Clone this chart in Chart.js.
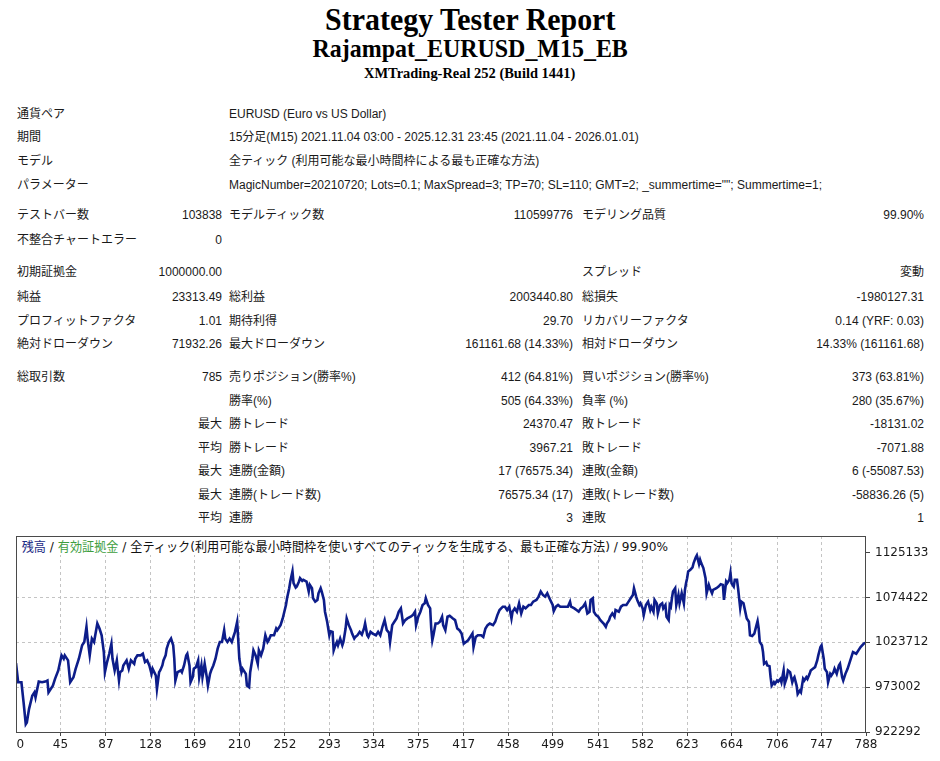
<!DOCTYPE html>
<html lang="ja">
<head>
<meta charset="utf-8">
<title>Strategy Tester Report</title>
<script src="https://cdn.jsdelivr.net/npm/chart.js@4.4.1/dist/chart.umd.min.js"></script>
<style>
  html, body { margin: 0; padding: 0; background: #fff; }
  body {
    width: 940px; height: 761px; position: relative; overflow: hidden;
    font-family: "Liberation Sans", Arial, "Noto Sans CJK JP", sans-serif;
    font-size: 12px; color: #1a1a1a;
  }
  .hd {
    position: absolute; left: 0; width: 940px; text-align: center;
    font-family: "Liberation Serif", "Times New Roman", serif;
    font-weight: bold; color: #000; white-space: nowrap; line-height: 1;
  }
  .hd span { display: inline-block; transform-origin: center; }
  .row { position: absolute; left: 0; width: 940px; height: 16px; line-height: 16px; }
  .row span { position: absolute; top: 0; white-space: nowrap; }
  .l1 { left: 17px; }
  .v1 { right: 718px; }
  .l2 { left: 229px; }
  .v2 { right: 367px; }
  .l3 { left: 582px; }
  .v3 { right: 16px; }
  #chartBox { position: absolute; left: 0; top: 530px; width: 940px; height: 231px; }
  #chartTitle {
    position: absolute; left: 18px; top: 537px; height: 18px; padding: 3px 4px 0 4px;
    box-sizing: border-box; line-height: 14px; background: #fff; white-space: nowrap;
    font-family: "DejaVu Sans", "Noto Sans CJK JP", sans-serif; font-size: 13px; color: #111;
    transform-origin: left center;
  }
  #chartTitle .bal { color: #1c2c86; }
  #chartTitle .eq { color: #3e9e3e; }
</style>
</head>
<body>

<div class="hd" style="top:3px;font-size:32px"><span data-w="290">Strategy Tester Report</span></div>
<div class="hd" style="top:36px;font-size:26px"><span data-w="315">Rajampat_EURUSD_M15_EB</span></div>
<div class="hd" style="top:66px;font-size:15px"><span data-w="211">XMTrading-Real 252 (Build 1441)</span></div>

<div class="row" style="top:106px"><span class="l1">通貨ペア</span><span class="l2">EURUSD (Euro vs US Dollar)</span></div>
<div class="row" style="top:129px"><span class="l1">期間</span><span class="l2">15分足(M15) 2021.11.04 03:00 - 2025.12.31 23:45 (2021.11.04 - 2026.01.01)</span></div>
<div class="row" style="top:153px"><span class="l1">モデル</span><span class="l2">全ティック (利用可能な最小時間枠による最も正確な方法)</span></div>
<div class="row" style="top:177px"><span class="l1">パラメーター</span><span class="l2">MagicNumber=20210720; Lots=0.1; MaxSpread=3; TP=70; SL=110; GMT=2; _summertime=""; Summertime=1;</span></div>
<div class="row" style="top:207px"><span class="l1">テストバー数</span><span class="v1">103838</span><span class="l2">モデルティック数</span><span class="v2">110599776</span><span class="l3">モデリング品質</span><span class="v3">99.90%</span></div>
<div class="row" style="top:232px"><span class="l1">不整合チャートエラー</span><span class="v1">0</span></div>
<div class="row" style="top:264px"><span class="l1">初期証拠金</span><span class="v1">1000000.00</span><span class="l3">スプレッド</span><span class="v3">変動</span></div>
<div class="row" style="top:289px"><span class="l1">純益</span><span class="v1">23313.49</span><span class="l2">総利益</span><span class="v2">2003440.80</span><span class="l3">総損失</span><span class="v3">-1980127.31</span></div>
<div class="row" style="top:313px"><span class="l1">プロフィットファクタ</span><span class="v1">1.01</span><span class="l2">期待利得</span><span class="v2">29.70</span><span class="l3">リカバリーファクタ</span><span class="v3">0.14 (YRF: 0.03)</span></div>
<div class="row" style="top:336px"><span class="l1">絶対ドローダウン</span><span class="v1">71932.26</span><span class="l2">最大ドローダウン</span><span class="v2">161161.68 (14.33%)</span><span class="l3">相対ドローダウン</span><span class="v3">14.33% (161161.68)</span></div>
<div class="row" style="top:369px"><span class="l1">総取引数</span><span class="v1">785</span><span class="l2">売りポジション(勝率%)</span><span class="v2">412 (64.81%)</span><span class="l3">買いポジション(勝率%)</span><span class="v3">373 (63.81%)</span></div>
<div class="row" style="top:393px"><span class="l2">勝率(%)</span><span class="v2">505 (64.33%)</span><span class="l3">負率 (%)</span><span class="v3">280 (35.67%)</span></div>
<div class="row" style="top:416px"><span class="v1">最大</span><span class="l2">勝トレード</span><span class="v2">24370.47</span><span class="l3">敗トレード</span><span class="v3">-18131.02</span></div>
<div class="row" style="top:440px"><span class="v1">平均</span><span class="l2">勝トレード</span><span class="v2">3967.21</span><span class="l3">敗トレード</span><span class="v3">-7071.88</span></div>
<div class="row" style="top:463px"><span class="v1">最大</span><span class="l2">連勝(金額)</span><span class="v2">17 (76575.34)</span><span class="l3">連敗(金額)</span><span class="v3">6 (-55087.53)</span></div>
<div class="row" style="top:487px"><span class="v1">最大</span><span class="l2">連勝(トレード数)</span><span class="v2">76575.34 (17)</span><span class="l3">連敗(トレード数)</span><span class="v3">-58836.26 (5)</span></div>
<div class="row" style="top:510px"><span class="v1">平均</span><span class="l2">連勝</span><span class="v2">3</span><span class="l3">連敗</span><span class="v3">1</span></div>

<div id="chartBox"><canvas id="balanceChart" width="940" height="231"></canvas></div>
<div id="chartTitle" data-w="654"><span class="bal">残高</span> / <span class="eq">有効証拠金</span> / 全ティック(利用可能な最小時間枠を使いすべてのティックを生成する、最も正確な方法) / 99.90%</div>

<script>
// Balance curve (trade number -> balance)
const tradeNo = [
  4, 6, 9, 11, 13, 14, 16, 19, 21, 22,
  25, 28, 31, 33, 34, 36, 38, 40, 43, 46,
  48, 49, 52, 54, 57, 59, 62, 65, 67, 69,
  70, 72, 74, 76, 79, 81, 83, 85, 86, 88,
  90, 92, 93, 95, 97, 99, 100, 102, 103, 106,
  108, 110, 113, 114, 116, 119, 121, 123, 125, 127,
  129, 130, 133, 134, 136, 137, 139, 140, 142, 143,
  145, 147, 149, 150, 151, 153, 156, 157, 159, 161,
  162, 164, 165, 167, 168, 170, 172, 173, 175, 176,
  178, 180, 181, 183, 184, 186, 188, 190, 192, 194,
  196, 197, 199, 201, 203, 205, 206, 208, 209, 210,
  212, 213, 216, 217, 219, 220, 222, 223, 225, 227,
  228, 230, 232, 233, 234, 236, 237, 239, 242, 244,
  245, 248, 250, 253, 254, 256, 257, 259, 260, 262,
  263, 265, 266, 268, 269, 272, 274, 275, 277, 278,
  280, 282, 283, 285, 286, 288, 289, 291, 293, 294,
  296, 297, 298, 300, 301, 303, 305, 306, 308, 309,
  311, 313, 314, 316, 317, 319, 321, 323, 325, 326,
  328, 329, 331, 333, 336, 338, 340, 342, 344, 346,
  348, 349, 351, 353, 355, 357, 359, 361, 363, 365,
  368, 370, 372, 373, 375, 377, 379, 381, 382, 384,
  386, 387, 388, 389, 391, 393, 395,
  397, 398, 400, 402, 404, 407, 409, 411, 413, 415,
  417, 419, 421, 423, 425, 426, 428, 430, 433, 435,
  437, 439, 441, 444, 446, 448, 450, 453, 455, 457,
  459, 461, 462, 464, 466, 468, 470, 472, 474, 477,
  479, 481, 484, 486, 488, 490, 492, 494, 496, 499,
  500, 502, 504, 506, 509, 511, 513, 515, 516, 519,
  521, 523, 525, 527, 529, 531, 533, 534, 536, 537,
  539, 541, 543, 546, 548, 549, 551, 552, 554, 556,
  557, 560, 562, 564, 567, 569, 571, 573, 574, 576,
  577, 579, 580, 582, 583, 585, 587, 589, 590, 592,
  593, 595, 596, 598, 600, 601, 603, 604, 606, 607,
  608, 609, 610, 612, 613, 615, 616, 618, 620, 621,
  622, 623, 624, 626, 628, 629, 631, 632, 634, 635,
  636, 638, 640, 641, 643, 644, 646, 647, 650, 652,
  654, 656, 657, 659, 660, 662, 663, 664, 666, 667,
  669, 670, 672, 673, 675, 676, 678, 680, 681, 683,
  685, 687, 688, 689, 690, 692, 693, 694, 696, 697,
  699, 700, 701, 703, 704, 706, 707, 709, 710, 712,
  713, 715, 716, 718, 720, 721, 722, 724, 725, 727,
  728, 730, 731, 733, 734, 736, 737, 739, 741, 743,
  744, 746, 747, 749, 750, 752, 753, 755, 756, 758,
  759, 761, 763, 764, 766, 767, 769, 771, 773, 775,
  776, 779, 781, 783, 786, 788
];

const balance = [
  1000000, 978540, 978540, 955770, 931090, 932990, 948180, 963360, 967160, 961460,
  979300, 978540, 979300, 980440, 967160, 970950, 974750, 982340, 991830, 1008910,
  1005120, 1008910, 1003220, 978540, 984240, 993730, 1005120, 1020300, 1024100, 1041180,
  1027890, 1008910, 1027890, 1024100, 1044970, 1039280, 1031690, 1012710, 989930, 1001320,
  1010810, 1022200, 1005120, 991830, 1003220, 980440, 989930, 991830, 997520, 1003220,
  993730, 1003220, 999420, 1005120, 1008910, 1008910, 1010810, 1001320, 1003220, 997520,
  988030, 993730, 986140, 970950, 989930, 991830, 997520, 1003220, 1008910, 1016500,
  1024100, 1027890, 1020300, 1005120, 980440, 989930, 991830, 989930, 997520, 1008910,
  1010810, 997520, 978540, 984240, 993730, 995630, 1003220, 984240, 997520, 984240,
  999420, 984240, 974750, 988030, 991830, 997520, 1005120, 1016500, 1024100, 1024100,
  1037380, 1027890, 1024100, 1027890, 1024100, 1031690, 1035480, 1046870, 1025990, 1005120,
  989930, 993730, 988030, 974750, 972850, 989930, 1005120, 1014610, 1008910, 999420,
  1014610, 1008910, 1016500, 1024100, 1031690, 1024100, 1025990, 1031690, 1031690, 1039280,
  1037380, 1043080, 1050670, 1065850, 1073440, 1084830, 1092420, 1103810, 1090530, 1085590,
  1086730, 1092420, 1096220, 1093180, 1094320, 1092420, 1081040, 1088630, 1084830, 1073440,
  1069650, 1071550, 1079140, 1084830, 1081040, 1071550, 1058260, 1046870, 1031690, 1036240,
  1035480, 1014610, 1018400, 1024100, 1020300, 1027890, 1020300, 1024100, 1039280, 1050670,
  1043080, 1037380, 1033590, 1027890, 1029790, 1031690, 1035480, 1032450, 1039280, 1044970,
  1031690, 1029790, 1035480, 1033590, 1031690, 1035480, 1031690, 1041180, 1048770, 1037380,
  1034720, 1024100, 1043080, 1046870, 1050670, 1058260, 1062060, 1044970, 1048770, 1050670,
  1052570, 1054460, 1058260, 1043080, 1052570, 1058260, 1065850, 1067750, 1073440, 1065850,
  1062060, 1039280, 1025990, 1031690, 1044970, 1044970, 1046870,
  1052570, 1043080, 1037380, 1052570, 1053700, 1050670, 1048770, 1039280, 1037380, 1033590,
  1022200, 1024100, 1025990, 1029790, 1033590, 1018400, 1029790, 1031690, 1031690, 1029790,
  1039280, 1043080, 1044970, 1043080, 1046870, 1054460, 1060160, 1063950, 1063950, 1060160,
  1063950, 1050670, 1058260, 1062060, 1058260, 1067750, 1056360, 1063950, 1062060, 1065850,
  1065850, 1069650, 1071550, 1075340, 1081040, 1077240, 1075340, 1079140, 1073440, 1065850,
  1059020, 1063950, 1065850, 1063950, 1063950, 1063950, 1063950, 1069650, 1063950, 1062060,
  1060160, 1058260, 1062060, 1063950, 1067750, 1056360, 1058260, 1071550, 1073440, 1058260,
  1054460, 1052570, 1048770, 1044970, 1041180, 1044970, 1048770, 1052570, 1056360, 1052570,
  1060160, 1058260, 1063950, 1065850, 1065850, 1069650, 1073440, 1077240, 1084830, 1075340,
  1071550, 1065850, 1067750, 1062060, 1054460, 1065850, 1069650, 1060160, 1063950, 1058260,
  1071550, 1067750, 1056360, 1065850, 1067750, 1062060, 1065850, 1052570, 1048770, 1065850,
  1063950, 1073440, 1081040, 1084830, 1065850, 1077240, 1067750, 1079140, 1067750, 1082930,
  1090530, 1096220, 1103810, 1105710, 1108370, 1113300, 1119760, 1122030, 1112160, 1117100,
  1113300, 1107610, 1096220, 1079140, 1088630, 1084830, 1079140, 1082930, 1084830, 1086730,
  1089390, 1088630, 1071550, 1092420, 1090530, 1094320, 1101910, 1090530, 1086730, 1094320,
  1094320, 1084830, 1062060, 1069650, 1067750, 1062060, 1050670, 1046870, 1031690, 1030930,
  1033590, 1043080, 1047630, 1039280, 1024100, 1020300, 1012710, 999420, 1001320, 997520,
  996760, 984240, 974750, 978540, 976650, 980440, 979300, 982340, 978540, 991830,
  976650, 984240, 991830, 989930, 978540, 982340, 984240, 974750, 965260, 969050,
  967160, 982340, 980440, 984240, 982340, 988030, 991830, 993730, 995630, 1003220,
  1008910, 1018400, 1020300, 1005120, 993730, 989930, 978540, 988030, 986140, 989930,
  993730, 988030, 997520, 999420, 984240, 980440, 988030, 993730, 1001320, 1008910,
  1012710, 1010810, 1014610, 1018400, 1022200, 1023310
];

// axis labels as printed on the report
const xTickLabels = [0, 45, 87, 128, 169, 210, 252, 293, 334, 375, 417, 458, 499, 541, 582, 623, 664, 706, 747, 788];
const yTicks = [922292, 973002, 1023712, 1074422, 1125133];
const xMin = 4;
const xMax = 788;
const yMin = 922292;
const yMax = 1143870;

// fit the report headings and the chart caption to the width they take in the original
document.querySelectorAll('.hd span, #chartTitle').forEach(el => {
  const target = parseFloat(el.dataset.w);
  el.style.transform = 'scaleX(' + (target / el.offsetWidth).toFixed(3) + ')';
});

const frame = {
  id: 'frame',
  afterDatasetsDraw(chart) {
    const { ctx, chartArea: a } = chart;
    ctx.save();
    ctx.strokeStyle = '#4a4a4a';
    ctx.lineWidth = 1;
    ctx.strokeRect(Math.round(a.left) + 0.5, Math.round(a.top) + 0.5,
      Math.round(a.right - a.left) - 1, Math.round(a.bottom - a.top));
    ctx.restore();
  }
};

const tickFont = { family: 'DejaVu Sans', size: 12 };

new Chart(document.getElementById('balanceChart'), {
  type: 'line',
  data: {
    datasets: [{
      label: '残高',
      data: tradeNo.map((t, i) => ({ x: t, y: balance[i] })),
      borderColor: '#0d1d8a',
      borderWidth: 2.6,
      pointRadius: 0,
      tension: 0,
      fill: false
    }]
  },
  options: {
    responsive: false,
    animation: false,
    layout: { padding: { left: 16, top: 6, right: 0, bottom: 0 } },
    plugins: {
      legend: { display: false },
      tooltip: { enabled: false },
      title: { display: false }
    },
    scales: {
      x: {
        type: 'linear',
        min: xMin,
        max: xMax,
        bounds: 'data',
        afterBuildTicks: axis => {
          // the "0" label sits a little right of the frame edge in the report
          axis.ticks = xTickLabels.map((v, i) => ({ value: i === 0 ? xMin + 4 : v }));
        },
        afterFit: axis => { axis.height = 29; axis.paddingLeft = 0; axis.paddingRight = 0; },
        grid: {
          color: c => (c.index === 0 || c.index === xTickLabels.length - 1) ? 'rgba(0,0,0,0)' : '#c4c4c4',
          tickColor: c => c.index === 0 ? 'rgba(0,0,0,0)' : '#444',
          tickLength: 4
        },
        border: { display: false, dash: [3, 3] },
        ticks: {
          autoSkip: false,
          maxRotation: 0,
          padding: 2,
          color: '#1a1a1a',
          font: tickFont,
          callback: (v, i) => String(xTickLabels[i])
        }
      },
      y: {
        position: 'right',
        min: yMin,
        max: yMax,
        bounds: 'data',
        afterBuildTicks: axis => { axis.ticks = yTicks.map(v => ({ value: v })); },
        afterFit: axis => { axis.width = 74; axis.paddingTop = 0; axis.paddingBottom = 0; },
        grid: {
          color: c => (c.index === 0 || c.index === yTicks.length - 1) ? 'rgba(0,0,0,0)' : '#c4c4c4',
          tickColor: '#444',
          tickLength: 4
        },
        border: { display: false, dash: [3, 3] },
        ticks: {
          padding: 5,
          color: '#1a1a1a',
          font: tickFont,
          callback: v => String(v)
        }
      }
    }
  },
  plugins: [frame]
});
</script>
</body>
</html>
